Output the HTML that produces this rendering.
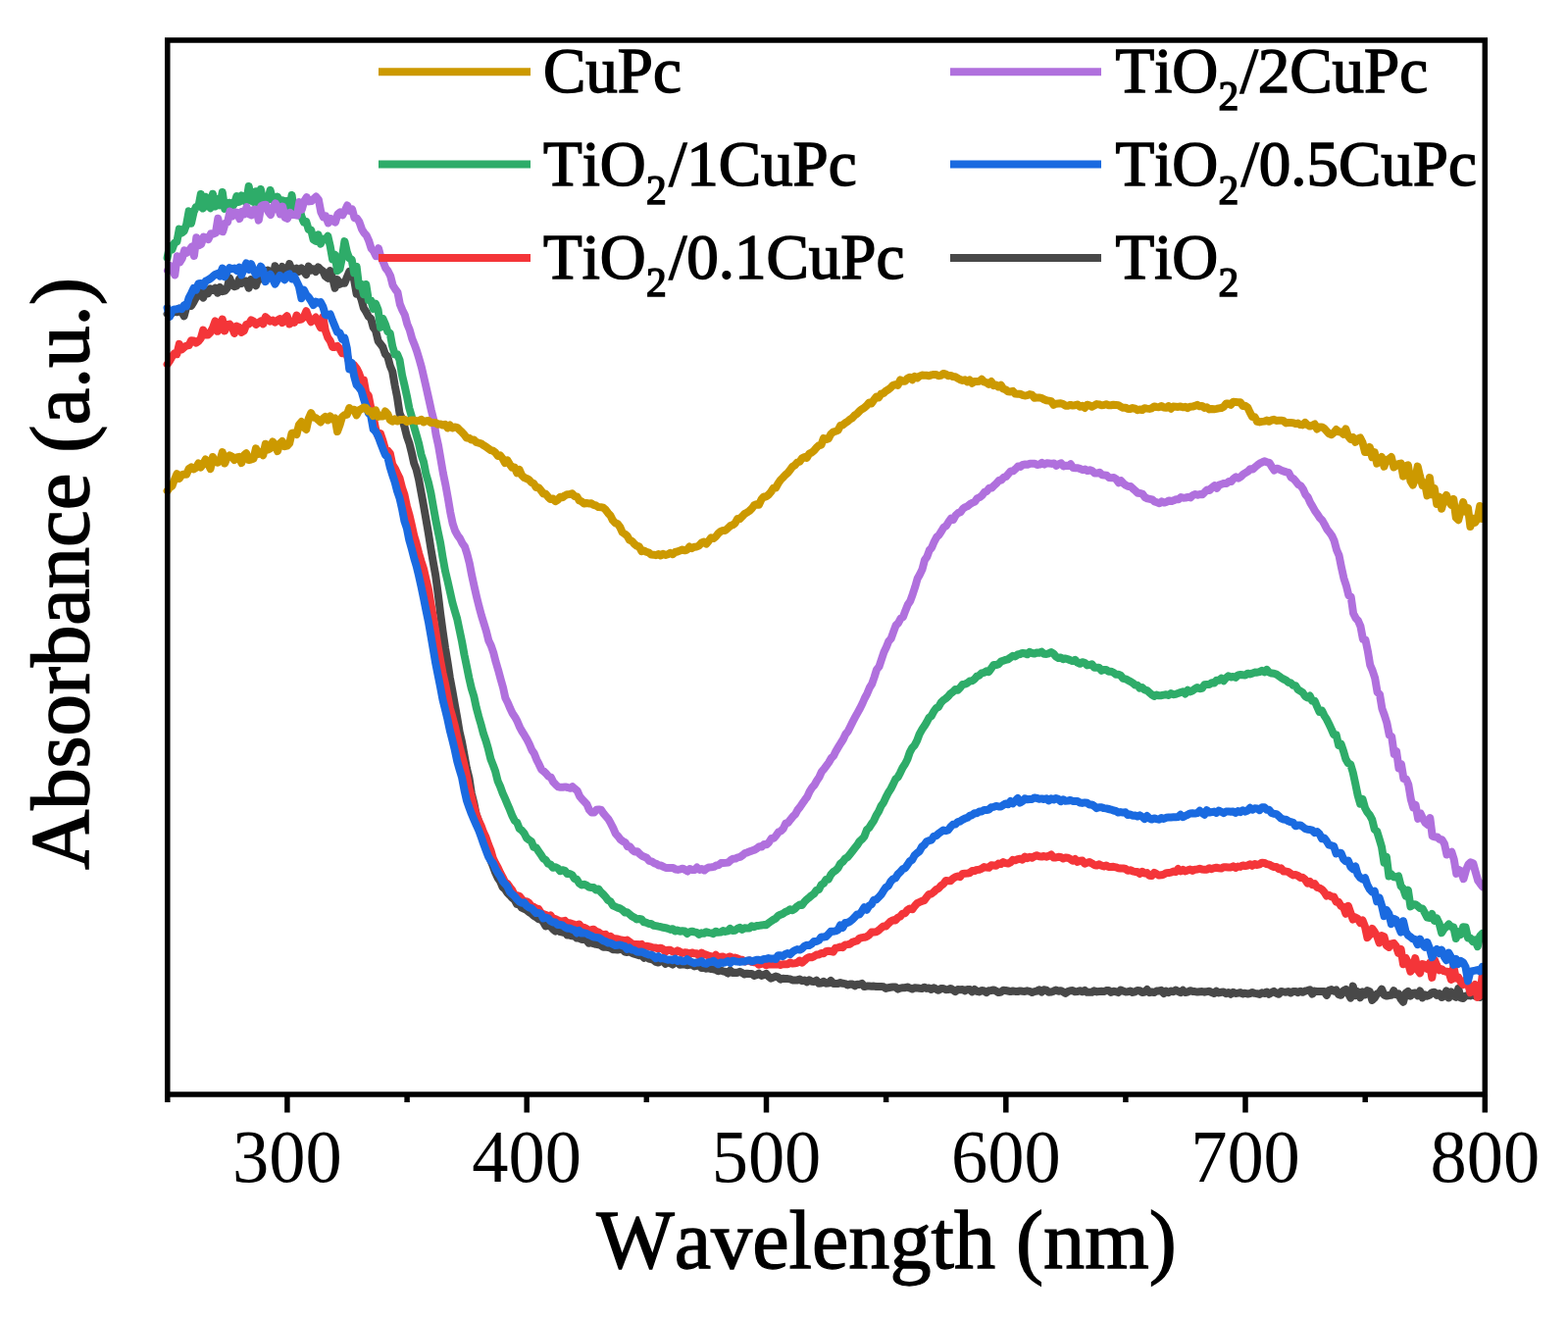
<!DOCTYPE html>
<html><head><meta charset="utf-8"><style>
html,body{margin:0;padding:0;background:#fff;overflow:hidden;}
svg{display:block;filter:blur(0.45px);}
text{font-family:"Liberation Serif","Times New Roman",serif;fill:#000;font-kerning:none;}
</style></head><body>
<svg width="1599" height="1345" viewBox="0 0 1599 1345">
<rect width="1599" height="1345" fill="#fff"/>
<g fill="none" stroke-width="8" stroke-linejoin="round" stroke-linecap="round">
<polyline points="170.6,320.0 173.0,321.5 175.5,319.2 177.9,316.8 180.4,318.2 182.8,314.6 185.3,317.9 187.7,322.3 190.1,313.3 192.6,310.3 195.0,311.9 197.5,307.8 199.9,303.3 202.4,297.2 204.8,301.0 207.2,303.6 209.7,295.5 212.1,299.3 214.6,294.4 217.0,296.0 219.5,293.8 221.9,298.6 224.3,292.9 226.8,297.2 229.2,296.7 231.7,293.7 234.1,283.3 236.6,290.3 239.0,292.2 241.4,291.4 243.9,284.7 246.3,289.1 248.8,286.5 251.2,286.6 253.7,293.7 256.1,285.0 258.5,287.7 261.0,291.3 263.4,283.9 265.9,284.4 268.3,284.9 270.8,282.9 273.2,275.6 275.6,280.4 278.1,284.3 280.5,271.3 283.0,280.6 285.4,276.7 287.8,272.0 290.3,283.1 292.7,277.8 295.2,269.1 297.6,275.3 300.1,277.3 302.5,273.7 304.9,276.9 307.4,273.5 309.8,276.7 312.3,280.0 314.7,271.7 317.2,275.6 319.6,274.4 322.0,277.0 324.5,272.4 326.9,274.8 329.4,276.5 331.8,281.7 334.3,283.7 336.7,276.0 339.1,283.4 341.6,293.8 344.0,285.1 346.5,289.8 348.9,288.3 351.4,288.8 353.8,282.8 356.2,277.0 358.7,278.7 361.1,285.2 363.6,299.6 366.0,298.8 368.5,305.2 370.9,314.1 373.3,317.9 375.8,322.8 378.2,324.8 380.7,333.9 383.1,337.1 385.6,347.7 388.0,350.8 390.4,354.0 392.9,361.2 395.3,363.5 397.8,373.0 400.2,378.7 402.7,393.2 405.1,405.3 407.5,421.4 410.0,427.1 412.4,434.7 414.9,444.9 417.3,451.6 419.8,461.4 422.2,472.3 424.6,478.6 427.1,489.1 429.5,501.9 432.0,515.6 434.4,529.3 436.9,543.8 439.3,559.0 441.7,573.0 444.2,586.7 446.6,604.8 449.1,625.5 451.5,643.2 454.0,660.6 456.4,674.8 458.8,690.9 461.3,704.2 463.7,717.9 466.2,731.8 468.6,746.1 471.1,757.0 473.5,770.0 475.9,783.1 478.4,793.2 480.8,808.9 483.3,818.9 485.7,830.7 488.2,837.4 490.6,846.3 493.0,852.8 495.5,858.6 497.9,869.3 500.4,877.4 502.8,883.3 505.2,889.9 507.7,895.2 510.1,898.8 512.6,904.7 515.0,906.7 517.5,910.4 519.9,912.9 522.3,915.6 524.8,917.5 527.2,922.0 529.7,922.8 532.1,925.7 534.6,926.8 537.0,927.9 539.4,930.0 541.9,931.5 544.3,933.7 546.8,935.2 549.2,937.2 551.7,937.8 554.1,940.2 556.5,944.4 559.0,943.7 561.4,944.6 563.9,947.5 566.3,949.6 568.8,947.8 571.2,950.2 573.6,950.7 576.1,950.3 578.5,953.5 581.0,953.6 583.4,954.3 585.9,954.6 588.3,956.6 590.7,956.7 593.2,958.0 595.6,957.9 598.1,958.7 600.5,961.8 603.0,960.8 605.4,962.2 607.8,962.9 610.3,963.2 612.7,963.9 615.2,965.7 617.6,965.5 620.1,966.0 622.5,966.7 624.9,968.2 627.4,968.2 629.8,968.5 632.3,968.1 634.7,967.8 637.2,970.5 639.6,971.0 642.0,970.3 644.5,971.7 646.9,972.7 649.4,973.5 651.8,974.3 654.3,974.0 656.7,976.7 659.1,974.9 661.6,977.5 664.0,978.0 666.5,978.9 668.9,980.9 671.4,981.5 673.8,979.7 676.2,980.0 678.7,982.8 681.1,981.1 683.6,982.3 686.0,983.6 688.5,981.3 690.9,981.1 693.3,983.7 695.8,983.6 698.2,983.5 700.7,984.2 703.1,983.8 705.6,983.6 708.0,985.4 710.4,984.9 712.9,984.5 715.3,986.9 717.8,986.9 720.2,987.7 722.7,987.1 725.1,988.1 727.5,988.3 730.0,988.9 732.4,990.2 734.9,989.4 737.3,990.4 739.7,990.9 742.2,992.5 744.6,989.5 747.1,992.0 749.5,991.7 752.0,991.9 754.4,990.8 756.8,992.0 759.3,993.4 761.7,992.7 764.2,993.0 766.6,993.0 769.1,994.9 771.5,994.2 773.9,992.6 776.4,994.9 778.8,994.1 781.3,992.9 783.7,995.7 786.2,997.7 788.6,996.6 791.0,995.6 793.5,996.3 795.9,998.6 798.4,997.8 800.8,997.9 803.3,998.1 805.7,998.4 808.1,999.4 810.6,999.5 813.0,999.4 815.5,998.6 817.9,1000.2 820.4,999.5 822.8,1001.3 825.2,999.4 827.7,1000.7 830.1,1001.0 832.6,999.7 835.0,1002.8 837.5,1002.6 839.9,1000.8 842.3,1002.7 844.8,1002.6 847.2,999.9 849.7,1002.9 852.1,1002.9 854.6,1002.9 857.0,1002.1 859.4,1002.8 861.9,1003.1 864.3,1004.4 866.8,1003.6 869.2,1003.5 871.7,1005.3 874.1,1003.7 876.5,1003.9 879.0,1002.8 881.4,1006.1 883.9,1005.6 886.3,1005.6 888.8,1005.7 891.2,1005.6 893.6,1006.0 896.1,1005.9 898.5,1005.9 901.0,1006.3 903.4,1007.9 905.9,1007.2 908.3,1006.8 910.7,1006.4 913.2,1006.4 915.6,1008.6 918.1,1007.6 920.5,1007.3 923.0,1007.2 925.4,1006.5 927.8,1007.6 930.3,1008.5 932.7,1007.2 935.2,1007.4 937.6,1007.8 940.1,1008.1 942.5,1006.7 944.9,1007.9 947.4,1007.5 949.8,1009.0 952.3,1007.3 954.7,1008.6 957.1,1009.8 959.6,1008.1 962.0,1008.0 964.5,1009.2 966.9,1009.1 969.4,1008.0 971.8,1009.5 974.2,1011.1 976.7,1009.1 979.1,1009.3 981.6,1009.0 984.0,1010.4 986.5,1008.9 988.9,1009.1 991.3,1011.3 993.8,1009.0 996.2,1010.8 998.7,1011.4 1001.1,1010.0 1003.6,1010.5 1006.0,1012.1 1008.4,1010.3 1010.9,1010.0 1013.3,1009.4 1015.8,1010.6 1018.2,1012.1 1020.7,1011.5 1023.1,1009.8 1025.5,1010.0 1028.0,1010.5 1030.4,1011.1 1032.9,1010.5 1035.3,1010.9 1037.8,1011.0 1040.2,1010.4 1042.6,1010.7 1045.1,1010.9 1047.5,1010.3 1050.0,1010.8 1052.4,1012.1 1054.9,1011.1 1057.3,1010.6 1059.7,1009.4 1062.2,1011.6 1064.6,1009.3 1067.1,1009.6 1069.5,1011.8 1072.0,1011.6 1074.4,1010.7 1076.8,1009.5 1079.3,1010.8 1081.7,1010.2 1084.2,1011.3 1086.6,1012.9 1089.1,1011.0 1091.5,1010.2 1093.9,1010.1 1096.4,1011.3 1098.8,1011.1 1101.3,1010.2 1103.7,1011.3 1106.2,1009.9 1108.6,1011.8 1111.0,1011.8 1113.5,1011.7 1115.9,1010.3 1118.4,1011.4 1120.8,1011.0 1123.3,1010.8 1125.7,1011.1 1128.1,1010.1 1130.6,1009.9 1133.0,1012.0 1135.5,1010.8 1137.9,1011.2 1140.4,1012.1 1142.8,1009.5 1145.2,1010.4 1147.7,1011.4 1150.1,1011.3 1152.6,1010.5 1155.0,1012.0 1157.5,1011.3 1159.9,1009.9 1162.3,1010.2 1164.8,1012.1 1167.2,1011.5 1169.7,1009.1 1172.1,1012.1 1174.5,1011.5 1177.0,1012.0 1179.4,1010.6 1181.9,1010.5 1184.3,1009.9 1186.8,1013.1 1189.2,1010.6 1191.6,1012.1 1194.1,1010.5 1196.5,1011.3 1199.0,1009.6 1201.4,1010.9 1203.9,1012.1 1206.3,1009.8 1208.7,1012.1 1211.2,1011.6 1213.6,1010.2 1216.1,1010.9 1218.5,1011.1 1221.0,1011.6 1223.4,1011.2 1225.8,1011.0 1228.3,1011.7 1230.7,1011.1 1233.2,1010.7 1235.6,1012.1 1238.1,1013.0 1240.5,1010.7 1242.9,1012.4 1245.4,1011.8 1247.8,1011.5 1250.3,1013.2 1252.7,1012.0 1255.2,1013.8 1257.6,1011.8 1260.0,1013.0 1262.5,1012.6 1264.9,1012.1 1267.4,1013.4 1269.8,1012.7 1272.3,1013.5 1274.7,1013.0 1277.1,1012.0 1279.6,1012.9 1282.0,1013.2 1284.5,1013.9 1286.9,1012.3 1289.4,1013.0 1291.8,1011.5 1294.2,1013.8 1296.7,1012.1 1299.1,1010.9 1301.6,1012.7 1304.0,1013.7 1306.5,1011.0 1308.9,1011.4 1311.3,1011.7 1313.8,1011.1 1316.2,1012.4 1318.7,1011.0 1321.1,1010.9 1323.6,1012.1 1326.0,1010.7 1328.4,1011.8 1330.9,1010.7 1333.3,1010.0 1335.8,1009.2 1338.2,1013.6 1340.7,1010.6 1343.1,1011.0 1345.5,1011.0 1348.0,1010.9 1350.4,1011.1 1352.9,1014.9 1355.3,1009.8 1357.8,1009.1 1360.2,1010.6 1362.6,1009.5 1365.1,1014.2 1367.5,1014.8 1370.0,1010.3 1372.4,1009.0 1374.9,1013.1 1377.3,1017.6 1379.7,1005.6 1382.2,1015.1 1384.6,1011.3 1387.1,1017.3 1389.5,1011.5 1392.0,1014.3 1394.4,1010.1 1396.8,1011.2 1399.3,1019.9 1401.7,1017.6 1404.2,1013.4 1406.6,1012.4 1409.0,1008.6 1411.5,1014.5 1413.9,1015.6 1416.4,1015.0 1418.8,1014.8 1421.3,1010.2 1423.7,1014.2 1426.1,1013.3 1428.6,1018.7 1431.0,1021.7 1433.5,1012.7 1435.9,1010.9 1438.4,1015.5 1440.8,1013.0 1443.2,1012.5 1445.7,1015.2 1448.1,1010.5 1450.6,1017.4 1453.0,1014.3 1455.5,1015.7 1457.9,1014.6 1460.3,1012.2 1462.8,1011.7 1465.2,1014.8 1467.7,1013.1 1470.1,1017.0 1472.6,1015.9 1475.0,1010.4 1477.4,1017.5 1479.9,1011.5 1482.3,1015.3 1484.8,1016.8 1487.2,1008.1 1489.7,1017.6 1492.1,1018.0 1494.5,1015.6 1497.0,1015.0 1499.4,1015.4 1501.9,1012.8 1504.3,1015.6 1506.8,1014.6 1509.2,1016.8 1511.6,1010.7" stroke="#484848"/>
<polyline points="170.6,371.5 173.0,368.0 175.5,363.5 177.9,360.3 180.4,361.2 182.8,350.8 185.3,356.4 187.7,354.2 190.1,352.7 192.6,352.2 195.0,347.2 197.5,347.4 199.9,349.6 202.4,347.9 204.8,345.0 207.2,336.5 209.7,341.5 212.1,341.5 214.6,338.9 217.0,334.3 219.5,327.4 221.9,337.8 224.3,333.9 226.8,325.5 229.2,337.4 231.7,331.2 234.1,330.6 236.6,333.6 239.0,339.9 241.4,332.6 243.9,333.6 246.3,338.9 248.8,337.4 251.2,331.0 253.7,330.6 256.1,326.5 258.5,327.6 261.0,330.9 263.4,329.2 265.9,327.5 268.3,330.3 270.8,323.2 273.2,325.2 275.6,327.7 278.1,326.6 280.5,328.6 283.0,326.6 285.4,325.1 287.8,329.1 290.3,324.4 292.7,322.2 295.2,330.5 297.6,328.4 300.1,328.9 302.5,321.5 304.9,326.0 307.4,325.5 309.8,323.3 312.3,317.2 314.7,323.5 317.2,328.2 319.6,326.2 322.0,323.6 324.5,329.1 326.9,334.1 329.4,323.3 331.8,337.0 334.3,344.2 336.7,347.6 339.1,353.9 341.6,354.1 344.0,352.8 346.5,355.6 348.9,360.1 351.4,357.9 353.8,362.2 356.2,369.5 358.7,376.7 361.1,372.3 363.6,375.6 366.0,380.4 368.5,387.4 370.9,387.4 373.3,400.6 375.8,403.4 378.2,415.6 380.7,425.1 383.1,437.2 385.6,445.1 388.0,442.2 390.4,449.3 392.9,458.1 395.3,459.5 397.8,462.3 400.2,473.5 402.7,477.5 405.1,482.6 407.5,487.6 410.0,497.3 412.4,504.4 414.9,516.2 417.3,524.5 419.8,535.2 422.2,546.1 424.6,554.2 427.1,564.0 429.5,572.2 432.0,579.9 434.4,590.5 436.9,601.0 439.3,615.2 441.7,628.6 444.2,643.6 446.6,659.1 449.1,673.4 451.5,686.3 454.0,697.2 456.4,709.6 458.8,722.1 461.3,730.7 463.7,739.7 466.2,750.9 468.6,761.6 471.1,770.7 473.5,780.1 475.9,790.7 478.4,803.4 480.8,812.6 483.3,822.4 485.7,830.3 488.2,836.9 490.6,841.9 493.0,848.6 495.5,853.8 497.9,860.8 500.4,866.9 502.8,875.3 505.2,880.2 507.7,884.7 510.1,889.9 512.6,894.6 515.0,899.6 517.5,901.2 519.9,904.6 522.3,907.7 524.8,912.6 527.2,913.1 529.7,913.8 532.1,916.7 534.6,919.8 537.0,919.2 539.4,920.7 541.9,923.9 544.3,924.8 546.8,926.4 549.2,926.9 551.7,930.8 554.1,932.2 556.5,932.8 559.0,934.4 561.4,933.4 563.9,937.0 566.3,937.1 568.8,938.3 571.2,939.6 573.6,939.3 576.1,938.8 578.5,941.5 581.0,941.2 583.4,942.1 585.9,942.9 588.3,943.6 590.7,942.5 593.2,946.2 595.6,945.8 598.1,947.1 600.5,949.0 603.0,948.2 605.4,947.7 607.8,949.8 610.3,950.6 612.7,952.3 615.2,953.7 617.6,952.8 620.1,955.6 622.5,954.7 624.9,956.8 627.4,957.1 629.8,957.4 632.3,958.3 634.7,958.6 637.2,959.1 639.6,958.6 642.0,960.4 644.5,962.5 646.9,963.0 649.4,963.1 651.8,963.3 654.3,962.8 656.7,965.5 659.1,964.7 661.6,965.2 664.0,965.7 666.5,966.5 668.9,966.6 671.4,967.4 673.8,966.7 676.2,967.8 678.7,970.6 681.1,968.7 683.6,968.8 686.0,970.3 688.5,970.8 690.9,969.4 693.3,970.5 695.8,971.9 698.2,971.3 700.7,971.5 703.1,973.1 705.6,971.4 708.0,972.2 710.4,972.3 712.9,974.4 715.3,971.6 717.8,973.0 720.2,973.6 722.7,974.7 725.1,975.1 727.5,976.1 730.0,973.8 732.4,976.4 734.9,975.8 737.3,975.6 739.7,977.3 742.2,976.2 744.6,975.4 747.1,977.3 749.5,976.5 752.0,977.3 754.4,978.4 756.8,978.8 759.3,980.6 761.7,979.8 764.2,979.3 766.6,980.9 769.1,981.2 771.5,981.5 773.9,983.7 776.4,983.0 778.8,981.9 781.3,984.3 783.7,983.5 786.2,983.6 788.6,983.4 791.0,983.6 793.5,983.0 795.9,984.0 798.4,983.2 800.8,983.2 803.3,983.2 805.7,981.5 808.1,982.5 810.6,982.2 813.0,981.8 815.5,979.6 817.9,981.6 820.4,979.5 822.8,977.2 825.2,975.9 827.7,976.2 830.1,975.2 832.6,973.6 835.0,973.4 837.5,972.0 839.9,972.2 842.3,970.2 844.8,969.7 847.2,970.0 849.7,970.6 852.1,966.7 854.6,966.4 857.0,965.6 859.4,966.2 861.9,963.4 864.3,963.1 866.8,962.7 869.2,960.8 871.7,959.9 874.1,959.4 876.5,956.8 879.0,956.1 881.4,955.8 883.9,955.1 886.3,953.4 888.8,950.6 891.2,950.5 893.6,950.3 896.1,948.6 898.5,946.4 901.0,944.4 903.4,944.4 905.9,941.8 908.3,939.5 910.7,938.3 913.2,938.5 915.6,935.6 918.1,934.6 920.5,931.6 923.0,931.2 925.4,927.9 927.8,926.5 930.3,927.3 932.7,924.0 935.2,921.2 937.6,920.0 940.1,918.8 942.5,918.1 944.9,914.8 947.4,911.9 949.8,911.5 952.3,909.5 954.7,907.2 957.1,906.0 959.6,903.1 962.0,901.5 964.5,898.0 966.9,898.3 969.4,898.3 971.8,895.8 974.2,894.3 976.7,893.5 979.1,894.2 981.6,890.9 984.0,890.7 986.5,890.6 988.9,890.0 991.3,888.1 993.8,888.1 996.2,886.9 998.7,886.7 1001.1,885.8 1003.6,884.1 1006.0,884.6 1008.4,884.8 1010.9,882.3 1013.3,882.5 1015.8,882.8 1018.2,880.6 1020.7,881.0 1023.1,879.1 1025.5,880.1 1028.0,880.5 1030.4,879.4 1032.9,876.8 1035.3,877.3 1037.8,876.2 1040.2,875.8 1042.6,876.6 1045.1,873.6 1047.5,875.1 1050.0,873.8 1052.4,874.7 1054.9,873.3 1057.3,872.3 1059.7,873.2 1062.2,873.6 1064.6,873.0 1067.1,873.7 1069.5,872.9 1072.0,871.5 1074.4,874.5 1076.8,874.4 1079.3,873.8 1081.7,874.0 1084.2,875.4 1086.6,874.5 1089.1,874.7 1091.5,876.0 1093.9,877.7 1096.4,875.9 1098.8,878.9 1101.3,877.7 1103.7,877.6 1106.2,880.6 1108.6,879.8 1111.0,879.0 1113.5,880.4 1115.9,882.0 1118.4,882.6 1120.8,881.4 1123.3,882.7 1125.7,883.4 1128.1,882.5 1130.6,883.9 1133.0,884.0 1135.5,883.8 1137.9,884.3 1140.4,885.2 1142.8,885.6 1145.2,885.4 1147.7,886.0 1150.1,887.8 1152.6,887.3 1155.0,888.3 1157.5,889.0 1159.9,889.0 1162.3,891.0 1164.8,888.8 1167.2,890.6 1169.7,890.1 1172.1,892.7 1174.5,893.1 1177.0,889.9 1179.4,891.1 1181.9,892.6 1184.3,892.3 1186.8,891.6 1189.2,890.2 1191.6,890.1 1194.1,889.6 1196.5,888.6 1199.0,889.1 1201.4,886.1 1203.9,888.4 1206.3,886.9 1208.7,888.5 1211.2,887.3 1213.6,886.6 1216.1,887.9 1218.5,886.7 1221.0,886.5 1223.4,885.7 1225.8,886.6 1228.3,886.8 1230.7,886.7 1233.2,885.3 1235.6,886.2 1238.1,885.1 1240.5,884.7 1242.9,885.3 1245.4,885.6 1247.8,884.2 1250.3,884.3 1252.7,884.5 1255.2,884.4 1257.6,883.4 1260.0,885.0 1262.5,883.6 1264.9,883.9 1267.4,882.4 1269.8,883.1 1272.3,882.5 1274.7,881.2 1277.1,882.8 1279.6,881.0 1282.0,882.0 1284.5,881.3 1286.9,879.7 1289.4,880.0 1291.8,881.1 1294.2,881.6 1296.7,883.0 1299.1,884.0 1301.6,883.9 1304.0,886.2 1306.5,885.4 1308.9,888.5 1311.3,888.5 1313.8,889.2 1316.2,890.8 1318.7,892.4 1321.1,892.0 1323.6,893.0 1326.0,894.9 1328.4,894.8 1330.9,896.9 1333.3,900.6 1335.8,898.9 1338.2,902.2 1340.7,901.2 1343.1,904.8 1345.5,905.5 1348.0,906.9 1350.4,909.7 1352.9,913.6 1355.3,912.7 1357.8,914.4 1360.2,914.4 1362.6,919.7 1365.1,919.8 1367.5,923.9 1370.0,924.7 1372.4,931.8 1374.9,923.8 1377.3,930.9 1379.7,937.6 1382.2,935.4 1384.6,936.7 1387.1,941.0 1389.5,938.4 1392.0,945.0 1394.4,956.1 1396.8,953.4 1399.3,946.9 1401.7,950.2 1404.2,954.5 1406.6,961.5 1409.0,954.1 1411.5,955.2 1413.9,964.2 1416.4,965.9 1418.8,962.3 1421.3,961.8 1423.7,964.7 1426.1,971.9 1428.6,967.9 1431.0,983.2 1433.5,976.8 1435.9,981.6 1438.4,990.6 1440.8,987.5 1443.2,977.1 1445.7,989.0 1448.1,992.3 1450.6,983.1 1453.0,983.9 1455.5,988.0 1457.9,982.0 1460.3,996.9 1462.8,978.7 1465.2,984.3 1467.7,989.3 1470.1,988.3 1472.6,990.2 1475.0,990.8 1477.4,990.9 1479.9,999.0 1482.3,985.7 1484.8,997.5 1487.2,996.5 1489.7,1001.5 1492.1,1003.9 1494.5,999.6 1497.0,1002.9 1499.4,1012.2 1501.9,1009.8 1504.3,1004.0 1506.8,1016.9 1509.2,1015.0 1511.6,995.4" stroke="#F43539"/>
<polyline points="170.6,314.0 173.0,323.0 175.5,317.0 177.9,315.4 180.4,315.2 182.8,314.5 185.3,315.1 187.7,311.3 190.1,312.3 192.6,303.9 195.0,299.2 197.5,293.9 199.9,295.6 202.4,289.3 204.8,289.1 207.2,291.6 209.7,286.7 212.1,285.5 214.6,284.0 217.0,281.9 219.5,279.9 221.9,278.9 224.3,281.5 226.8,273.5 229.2,282.1 231.7,276.9 234.1,273.1 236.6,274.2 239.0,273.6 241.4,275.9 243.9,272.7 246.3,280.5 248.8,273.6 251.2,268.4 253.7,274.9 256.1,269.1 258.5,275.3 261.0,280.1 263.4,278.8 265.9,271.7 268.3,275.6 270.8,287.1 273.2,281.7 275.6,279.8 278.1,284.3 280.5,289.7 283.0,285.1 285.4,280.9 287.8,283.1 290.3,285.2 292.7,280.6 295.2,279.4 297.6,284.3 300.1,282.1 302.5,287.1 304.9,292.1 307.4,304.3 309.8,295.6 312.3,300.6 314.7,303.0 317.2,306.8 319.6,311.1 322.0,307.6 324.5,308.8 326.9,308.1 329.4,312.9 331.8,321.1 334.3,321.6 336.7,320.5 339.1,326.9 341.6,332.9 344.0,338.7 346.5,339.4 348.9,345.9 351.4,344.7 353.8,355.2 356.2,376.4 358.7,370.0 361.1,383.4 363.6,392.5 366.0,394.9 368.5,398.5 370.9,406.7 373.3,413.7 375.8,421.3 378.2,423.8 380.7,437.7 383.1,440.1 385.6,444.7 388.0,451.4 390.4,457.7 392.9,463.8 395.3,466.1 397.8,476.5 400.2,484.2 402.7,491.7 405.1,501.0 407.5,507.8 410.0,518.8 412.4,531.2 414.9,538.8 417.3,550.6 419.8,559.5 422.2,568.8 424.6,576.9 427.1,587.1 429.5,598.0 432.0,609.8 434.4,621.9 436.9,633.9 439.3,647.5 441.7,661.6 444.2,676.3 446.6,688.2 449.1,700.8 451.5,713.6 454.0,723.5 456.4,733.4 458.8,744.8 461.3,754.5 463.7,764.4 466.2,776.2 468.6,784.7 471.1,792.9 473.5,805.5 475.9,816.2 478.4,823.4 480.8,829.8 483.3,835.7 485.7,841.2 488.2,846.7 490.6,853.2 493.0,860.1 495.5,866.8 497.9,873.2 500.4,877.6 502.8,880.2 505.2,885.7 507.7,890.1 510.1,893.4 512.6,898.6 515.0,901.2 517.5,904.1 519.9,909.5 522.3,911.8 524.8,914.0 527.2,917.0 529.7,919.5 532.1,920.8 534.6,920.3 537.0,923.6 539.4,925.4 541.9,926.1 544.3,928.6 546.8,931.1 549.2,930.9 551.7,932.0 554.1,936.5 556.5,935.7 559.0,936.3 561.4,939.2 563.9,940.4 566.3,940.6 568.8,943.0 571.2,943.0 573.6,943.5 576.1,945.5 578.5,946.8 581.0,946.4 583.4,947.8 585.9,948.4 588.3,951.4 590.7,949.1 593.2,951.6 595.6,951.3 598.1,951.8 600.5,953.3 603.0,954.2 605.4,955.6 607.8,955.9 610.3,956.2 612.7,957.4 615.2,959.2 617.6,960.1 620.1,961.5 622.5,961.4 624.9,962.7 627.4,964.1 629.8,963.8 632.3,963.4 634.7,964.3 637.2,964.9 639.6,967.9 642.0,966.4 644.5,968.6 646.9,968.9 649.4,970.5 651.8,970.8 654.3,970.6 656.7,971.5 659.1,972.6 661.6,973.5 664.0,973.5 666.5,975.0 668.9,977.2 671.4,975.1 673.8,977.4 676.2,976.9 678.7,978.0 681.1,978.8 683.6,978.4 686.0,979.2 688.5,977.6 690.9,980.0 693.3,978.9 695.8,980.2 698.2,980.3 700.7,978.2 703.1,980.0 705.6,981.1 708.0,982.2 710.4,981.4 712.9,981.4 715.3,980.0 717.8,982.4 720.2,982.8 722.7,981.3 725.1,981.1 727.5,979.8 730.0,981.9 732.4,983.3 734.9,981.4 737.3,981.9 739.7,981.3 742.2,980.0 744.6,982.0 747.1,979.7 749.5,980.2 752.0,980.6 754.4,980.9 756.8,980.5 759.3,980.6 761.7,979.6 764.2,979.2 766.6,980.4 769.1,979.6 771.5,978.8 773.9,978.8 776.4,979.3 778.8,977.9 781.3,977.8 783.7,977.1 786.2,977.7 788.6,977.4 791.0,978.0 793.5,974.2 795.9,974.3 798.4,975.1 800.8,973.0 803.3,972.1 805.7,973.2 808.1,970.8 810.6,969.1 813.0,968.1 815.5,968.6 817.9,967.4 820.4,964.7 822.8,963.8 825.2,963.9 827.7,962.5 830.1,960.0 832.6,960.1 835.0,958.8 837.5,955.4 839.9,955.5 842.3,955.0 844.8,952.6 847.2,949.8 849.7,949.8 852.1,949.4 854.6,948.1 857.0,943.4 859.4,945.9 861.9,941.1 864.3,940.9 866.8,939.6 869.2,937.7 871.7,935.2 874.1,932.4 876.5,932.4 879.0,929.0 881.4,925.3 883.9,927.7 886.3,923.7 888.8,922.1 891.2,917.6 893.6,917.2 896.1,914.9 898.5,912.3 901.0,908.3 903.4,904.9 905.9,903.3 908.3,898.8 910.7,896.4 913.2,895.3 915.6,891.5 918.1,889.1 920.5,886.3 923.0,885.3 925.4,881.9 927.8,878.2 930.3,876.7 932.7,872.2 935.2,869.8 937.6,868.2 940.1,863.5 942.5,861.6 944.9,858.2 947.4,857.2 949.8,856.6 952.3,852.8 954.7,852.2 957.1,850.0 959.6,848.2 962.0,846.5 964.5,847.2 966.9,846.5 969.4,843.1 971.8,840.8 974.2,840.6 976.7,838.2 979.1,837.6 981.6,835.8 984.0,834.6 986.5,833.8 988.9,831.9 991.3,831.1 993.8,829.2 996.2,829.2 998.7,827.5 1001.1,827.5 1003.6,825.9 1006.0,826.0 1008.4,825.5 1010.9,823.2 1013.3,822.9 1015.8,821.9 1018.2,822.4 1020.7,822.5 1023.1,820.9 1025.5,819.4 1028.0,820.2 1030.4,817.1 1032.9,819.3 1035.3,816.7 1037.8,814.0 1040.2,818.5 1042.6,817.1 1045.1,814.3 1047.5,815.3 1050.0,815.0 1052.4,815.0 1054.9,813.4 1057.3,813.9 1059.7,814.7 1062.2,814.4 1064.6,815.0 1067.1,814.3 1069.5,816.4 1072.0,814.3 1074.4,815.5 1076.8,814.0 1079.3,814.8 1081.7,817.2 1084.2,815.3 1086.6,816.7 1089.1,816.6 1091.5,815.9 1093.9,816.9 1096.4,816.9 1098.8,817.1 1101.3,818.5 1103.7,818.9 1106.2,818.4 1108.6,818.8 1111.0,820.5 1113.5,820.5 1115.9,822.0 1118.4,824.1 1120.8,823.2 1123.3,823.3 1125.7,824.1 1128.1,824.4 1130.6,825.0 1133.0,825.6 1135.5,826.5 1137.9,827.0 1140.4,828.5 1142.8,828.1 1145.2,828.6 1147.7,828.3 1150.1,831.0 1152.6,830.4 1155.0,831.7 1157.5,831.5 1159.9,832.5 1162.3,831.4 1164.8,832.9 1167.2,835.1 1169.7,832.0 1172.1,834.5 1174.5,835.5 1177.0,834.4 1179.4,835.1 1181.9,835.7 1184.3,834.0 1186.8,834.9 1189.2,833.8 1191.6,833.6 1194.1,833.4 1196.5,833.3 1199.0,833.3 1201.4,833.0 1203.9,830.8 1206.3,833.1 1208.7,831.9 1211.2,830.8 1213.6,829.4 1216.1,829.2 1218.5,829.6 1221.0,829.1 1223.4,826.8 1225.8,829.0 1228.3,830.7 1230.7,826.2 1233.2,828.6 1235.6,828.1 1238.1,827.6 1240.5,828.9 1242.9,826.6 1245.4,827.8 1247.8,829.1 1250.3,827.5 1252.7,827.4 1255.2,827.8 1257.6,827.4 1260.0,829.0 1262.5,827.0 1264.9,828.2 1267.4,826.2 1269.8,827.6 1272.3,826.5 1274.7,823.8 1277.1,825.7 1279.6,824.3 1282.0,824.4 1284.5,826.1 1286.9,823.3 1289.4,823.2 1291.8,825.7 1294.2,825.8 1296.7,828.9 1299.1,829.8 1301.6,830.1 1304.0,832.1 1306.5,834.6 1308.9,835.5 1311.3,835.8 1313.8,837.3 1316.2,838.2 1318.7,838.9 1321.1,842.3 1323.6,841.6 1326.0,841.4 1328.4,843.0 1330.9,845.0 1333.3,845.8 1335.8,846.0 1338.2,846.7 1340.7,849.2 1343.1,848.1 1345.5,850.2 1348.0,855.2 1350.4,854.5 1352.9,857.7 1355.3,861.7 1357.8,862.2 1360.2,863.1 1362.6,870.4 1365.1,869.7 1367.5,869.7 1370.0,876.0 1372.4,878.2 1374.9,877.6 1377.3,883.9 1379.7,886.2 1382.2,883.4 1384.6,891.8 1387.1,894.9 1389.5,896.6 1392.0,895.2 1394.4,902.4 1396.8,906.9 1399.3,909.6 1401.7,908.6 1404.2,919.3 1406.6,915.4 1409.0,923.2 1411.5,934.2 1413.9,928.0 1416.4,931.8 1418.8,942.1 1421.3,936.8 1423.7,938.1 1426.1,944.2 1428.6,950.6 1431.0,939.2 1433.5,949.9 1435.9,953.7 1438.4,955.4 1440.8,957.3 1443.2,958.1 1445.7,963.2 1448.1,957.6 1450.6,962.9 1453.0,965.7 1455.5,961.0 1457.9,966.9 1460.3,976.2 1462.8,971.1 1465.2,968.1 1467.7,972.2 1470.1,968.8 1472.6,975.3 1475.0,979.2 1477.4,971.6 1479.9,976.1 1482.3,983.8 1484.8,978.0 1487.2,983.0 1489.7,980.0 1492.1,981.4 1494.5,985.8 1497.0,1000.4 1499.4,990.7 1501.9,990.2 1504.3,989.7 1506.8,989.1 1509.2,990.3 1511.6,986.0" stroke="#1A6AE0"/>
<polyline points="170.6,262.9 173.0,250.8 175.5,254.4 177.9,247.6 180.4,246.6 182.8,233.6 185.3,237.5 187.7,235.6 190.1,229.2 192.6,215.4 195.0,227.7 197.5,216.3 199.9,210.9 202.4,210.7 204.8,198.0 207.2,212.5 209.7,200.7 212.1,209.3 214.6,212.2 217.0,197.7 219.5,210.5 221.9,203.2 224.3,209.3 226.8,196.0 229.2,212.9 231.7,207.3 234.1,206.7 236.6,211.0 239.0,207.8 241.4,200.0 243.9,205.9 246.3,199.4 248.8,204.8 251.2,205.8 253.7,190.0 256.1,204.7 258.5,205.8 261.0,195.2 263.4,207.0 265.9,193.0 268.3,204.4 270.8,205.4 273.2,203.7 275.6,194.0 278.1,203.6 280.5,205.4 283.0,200.8 285.4,207.0 287.8,204.2 290.3,205.2 292.7,205.0 295.2,211.4 297.6,199.0 300.1,218.0 302.5,211.4 304.9,210.8 307.4,220.6 309.8,226.6 312.3,226.0 314.7,234.2 317.2,234.4 319.6,244.3 322.0,245.7 324.5,239.3 326.9,248.6 329.4,243.7 331.8,244.2 334.3,240.7 336.7,250.9 339.1,264.4 341.6,259.7 344.0,276.2 346.5,274.1 348.9,262.6 351.4,246.1 353.8,256.9 356.2,263.3 358.7,264.7 361.1,278.2 363.6,271.8 366.0,291.6 368.5,290.0 370.9,300.1 373.3,290.0 375.8,306.1 378.2,306.2 380.7,315.0 383.1,309.7 385.6,316.0 388.0,333.9 390.4,324.8 392.9,330.5 395.3,337.9 397.8,340.1 400.2,353.2 402.7,361.4 405.1,361.2 407.5,367.0 410.0,382.3 412.4,392.5 414.9,403.8 417.3,416.0 419.8,424.6 422.2,435.2 424.6,443.4 427.1,452.4 429.5,463.4 432.0,471.1 434.4,483.4 436.9,491.8 439.3,502.3 441.7,515.9 444.2,529.8 446.6,541.8 449.1,553.6 451.5,568.4 454.0,582.1 456.4,592.1 458.8,602.8 461.3,614.2 463.7,622.6 466.2,631.0 468.6,642.5 471.1,654.5 473.5,667.8 475.9,679.3 478.4,691.6 480.8,702.0 483.3,710.1 485.7,721.4 488.2,730.8 490.6,739.0 493.0,748.2 495.5,755.3 497.9,763.7 500.4,774.0 502.8,780.1 505.2,786.7 507.7,796.7 510.1,802.0 512.6,808.8 515.0,814.2 517.5,820.1 519.9,825.7 522.3,831.7 524.8,836.8 527.2,838.6 529.7,845.0 532.1,846.7 534.6,849.7 537.0,854.5 539.4,856.4 541.9,858.0 544.3,863.9 546.8,864.4 549.2,868.2 551.7,871.6 554.1,875.5 556.5,876.9 559.0,880.7 561.4,881.5 563.9,884.8 566.3,884.2 568.8,885.3 571.2,888.2 573.6,887.2 576.1,887.8 578.5,891.0 581.0,890.9 583.4,892.2 585.9,896.1 588.3,896.7 590.7,900.7 593.2,902.4 595.6,901.8 598.1,902.8 600.5,904.5 603.0,905.0 605.4,905.1 607.8,907.5 610.3,906.5 612.7,909.6 615.2,912.0 617.6,914.7 620.1,918.0 622.5,919.3 624.9,923.3 627.4,924.5 629.8,925.6 632.3,926.4 634.7,927.9 637.2,930.4 639.6,930.3 642.0,932.3 644.5,934.4 646.9,935.6 649.4,937.4 651.8,937.0 654.3,937.5 656.7,940.4 659.1,940.7 661.6,942.0 664.0,941.9 666.5,943.7 668.9,944.1 671.4,944.7 673.8,945.2 676.2,945.8 678.7,946.2 681.1,946.9 683.6,947.9 686.0,947.2 688.5,949.5 690.9,948.5 693.3,949.8 695.8,949.2 698.2,949.4 700.7,952.0 703.1,950.3 705.6,949.7 708.0,950.4 710.4,950.9 712.9,952.9 715.3,951.3 717.8,951.8 720.2,950.2 722.7,951.1 725.1,951.4 727.5,952.1 730.0,949.7 732.4,950.8 734.9,950.6 737.3,949.1 739.7,949.9 742.2,949.3 744.6,946.9 747.1,949.1 749.5,948.7 752.0,947.0 754.4,945.9 756.8,947.9 759.3,946.2 761.7,946.4 764.2,946.4 766.6,944.3 769.1,945.2 771.5,944.1 773.9,943.9 776.4,943.5 778.8,943.1 781.3,943.3 783.7,941.2 786.2,939.5 788.6,937.9 791.0,936.7 793.5,933.9 795.9,932.7 798.4,931.7 800.8,930.0 803.3,929.0 805.7,927.3 808.1,928.3 810.6,926.6 813.0,924.2 815.5,922.5 817.9,923.0 820.4,919.5 822.8,917.1 825.2,915.3 827.7,913.0 830.1,911.4 832.6,907.8 835.0,907.2 837.5,902.3 839.9,900.9 842.3,897.0 844.8,896.7 847.2,892.0 849.7,889.2 852.1,887.6 854.6,885.2 857.0,880.6 859.4,878.8 861.9,875.5 864.3,874.1 866.8,871.2 869.2,868.0 871.7,864.8 874.1,861.8 876.5,858.0 879.0,855.8 881.4,853.0 883.9,846.3 886.3,844.1 888.8,840.1 891.2,836.7 893.6,831.3 896.1,827.3 898.5,821.8 901.0,818.4 903.4,813.1 905.9,808.2 908.3,804.6 910.7,799.9 913.2,794.6 915.6,792.5 918.1,787.8 920.5,782.7 923.0,779.0 925.4,774.3 927.8,767.1 930.3,762.4 932.7,759.9 935.2,755.2 937.6,748.7 940.1,744.1 942.5,740.6 944.9,736.6 947.4,731.9 949.8,730.0 952.3,725.3 954.7,722.1 957.1,720.9 959.6,716.4 962.0,714.0 964.5,712.3 966.9,710.1 969.4,707.2 971.8,705.5 974.2,703.1 976.7,703.8 979.1,701.2 981.6,698.0 984.0,697.6 986.5,696.5 988.9,694.5 991.3,694.3 993.8,692.5 996.2,689.6 998.7,688.7 1001.1,686.4 1003.6,685.9 1006.0,684.3 1008.4,685.1 1010.9,681.4 1013.3,677.9 1015.8,678.0 1018.2,677.4 1020.7,674.6 1023.1,673.7 1025.5,672.9 1028.0,672.3 1030.4,670.5 1032.9,668.8 1035.3,669.4 1037.8,667.5 1040.2,667.0 1042.6,665.9 1045.1,666.3 1047.5,667.3 1050.0,664.8 1052.4,666.0 1054.9,666.6 1057.3,665.5 1059.7,665.8 1062.2,664.6 1064.6,666.8 1067.1,666.9 1069.5,666.3 1072.0,665.0 1074.4,666.6 1076.8,669.6 1079.3,671.0 1081.7,670.5 1084.2,672.2 1086.6,671.4 1089.1,672.3 1091.5,673.3 1093.9,674.1 1096.4,672.8 1098.8,675.7 1101.3,676.8 1103.7,675.2 1106.2,675.8 1108.6,678.4 1111.0,678.1 1113.5,677.2 1115.9,680.8 1118.4,680.7 1120.8,680.7 1123.3,683.9 1125.7,682.9 1128.1,683.0 1130.6,684.8 1133.0,684.7 1135.5,685.8 1137.9,687.8 1140.4,687.7 1142.8,688.7 1145.2,691.8 1147.7,692.3 1150.1,693.6 1152.6,694.8 1155.0,696.3 1157.5,698.5 1159.9,698.7 1162.3,701.7 1164.8,701.1 1167.2,703.4 1169.7,704.1 1172.1,706.2 1174.5,708.3 1177.0,709.9 1179.4,708.6 1181.9,709.3 1184.3,709.2 1186.8,708.6 1189.2,708.2 1191.6,709.0 1194.1,707.0 1196.5,708.2 1199.0,707.9 1201.4,706.9 1203.9,706.0 1206.3,705.3 1208.7,707.4 1211.2,703.8 1213.6,705.5 1216.1,704.3 1218.5,702.5 1221.0,701.0 1223.4,702.3 1225.8,701.9 1228.3,698.3 1230.7,697.9 1233.2,697.9 1235.6,696.2 1238.1,696.6 1240.5,693.8 1242.9,693.8 1245.4,691.8 1247.8,694.3 1250.3,691.2 1252.7,689.2 1255.2,690.5 1257.6,689.9 1260.0,690.9 1262.5,688.4 1264.9,688.0 1267.4,688.3 1269.8,688.6 1272.3,686.7 1274.7,687.4 1277.1,686.7 1279.6,685.6 1282.0,685.7 1284.5,685.1 1286.9,683.9 1289.4,685.3 1291.8,682.9 1294.2,685.6 1296.7,686.6 1299.1,686.8 1301.6,687.6 1304.0,689.3 1306.5,691.1 1308.9,692.5 1311.3,693.6 1313.8,695.8 1316.2,696.4 1318.7,698.7 1321.1,699.1 1323.6,703.1 1326.0,704.6 1328.4,706.1 1330.9,709.9 1333.3,711.5 1335.8,709.6 1338.2,714.8 1340.7,714.8 1343.1,720.5 1345.5,725.9 1348.0,724.6 1350.4,729.6 1352.9,733.4 1355.3,738.3 1357.8,743.6 1360.2,749.2 1362.6,749.2 1365.1,759.9 1367.5,758.6 1370.0,765.9 1372.4,774.2 1374.9,778.3 1377.3,779.6 1379.7,787.6 1382.2,799.2 1384.6,810.9 1387.1,819.7 1389.5,814.9 1392.0,823.9 1394.4,828.2 1396.8,831.1 1399.3,835.9 1401.7,845.6 1404.2,847.7 1406.6,855.5 1409.0,863.7 1411.5,879.6 1413.9,873.7 1416.4,893.5 1418.8,891.5 1421.3,894.2 1423.7,894.5 1426.1,893.4 1428.6,903.5 1431.0,906.1 1433.5,913.6 1435.9,907.6 1438.4,924.4 1440.8,922.5 1443.2,922.2 1445.7,923.8 1448.1,926.1 1450.6,926.4 1453.0,930.8 1455.5,935.6 1457.9,936.0 1460.3,932.0 1462.8,939.0 1465.2,936.4 1467.7,941.7 1470.1,951.2 1472.6,947.1 1475.0,945.0 1477.4,942.5 1479.9,945.0 1482.3,945.4 1484.8,957.0 1487.2,950.2 1489.7,952.9 1492.1,945.3 1494.5,945.4 1497.0,956.4 1499.4,956.4 1501.9,960.1 1504.3,958.4 1506.8,965.2 1509.2,954.5 1511.6,952.0" stroke="#2EAC69"/>
<polyline points="171.0,275.9 173.4,270.8 175.9,275.9 178.3,280.4 180.8,261.2 183.2,267.6 185.7,263.7 188.1,255.3 190.5,257.7 193.0,255.1 195.4,251.8 197.9,260.9 200.3,242.3 202.8,250.2 205.2,248.9 207.6,241.6 210.1,242.9 212.5,244.0 215.0,238.3 217.4,238.6 219.9,237.6 222.3,222.8 224.7,235.3 227.2,236.2 229.6,227.8 232.1,226.4 234.5,215.6 237.0,220.4 239.4,216.4 241.8,216.7 244.3,223.1 246.7,215.8 249.2,218.3 251.6,211.0 254.1,218.3 256.5,219.4 258.9,213.7 261.4,213.7 263.8,224.6 266.3,210.3 268.7,208.9 271.2,208.8 273.6,215.8 276.0,219.0 278.5,211.2 280.9,207.4 283.4,211.3 285.8,218.5 288.2,210.5 290.7,221.8 293.1,222.9 295.6,216.8 298.0,218.9 300.5,219.1 302.9,219.6 305.3,206.1 307.8,213.6 310.2,205.1 312.7,201.2 315.1,205.4 317.6,205.0 320.0,202.7 322.4,200.6 324.9,203.8 327.3,216.2 329.8,221.4 332.2,220.3 334.7,227.4 337.1,222.9 339.5,225.4 342.0,226.6 344.4,218.4 346.9,216.4 349.3,219.3 351.8,214.6 354.2,209.5 356.6,214.8 359.1,213.4 361.5,222.2 364.0,222.6 366.4,226.2 368.9,233.4 371.3,237.5 373.7,240.1 376.2,245.7 378.6,253.4 381.1,256.2 383.5,261.2 386.0,253.2 388.4,262.2 390.8,267.3 393.3,273.5 395.7,276.4 398.2,281.5 400.6,290.9 403.1,295.0 405.5,298.2 407.9,310.4 410.4,316.4 412.8,321.0 415.3,330.5 417.7,336.3 420.2,345.3 422.6,351.2 425.0,357.8 427.5,366.1 429.9,374.7 432.4,385.3 434.8,395.9 437.3,407.0 439.7,417.9 442.1,427.5 444.6,443.4 447.0,454.1 449.5,468.6 451.9,482.6 454.4,494.6 456.8,507.9 459.2,522.2 461.7,534.1 464.1,541.3 466.6,545.8 469.0,549.0 471.5,554.0 473.9,557.3 476.3,564.8 478.8,574.4 481.2,586.9 483.7,598.3 486.1,608.8 488.6,618.9 491.0,627.7 493.4,635.5 495.9,643.6 498.3,653.2 500.8,658.5 503.2,665.5 505.6,674.9 508.1,683.3 510.5,692.2 513.0,701.0 515.4,711.8 517.9,716.7 520.3,722.6 522.7,727.5 525.2,731.2 527.6,735.7 530.1,741.6 532.5,746.0 535.0,749.9 537.4,754.0 539.8,758.8 542.3,764.7 544.7,768.3 547.2,774.6 549.6,779.2 552.1,784.6 554.5,786.5 556.9,788.7 559.4,791.8 561.8,792.6 564.3,797.6 566.7,800.1 569.2,802.4 571.6,802.8 574.0,802.8 576.5,802.4 578.9,803.0 581.4,803.8 583.8,802.2 586.3,804.4 588.7,806.3 591.1,811.9 593.6,815.0 596.0,817.5 598.5,820.2 600.9,825.9 603.4,828.6 605.8,828.5 608.2,825.8 610.7,825.4 613.1,826.0 615.6,829.7 618.0,832.5 620.5,835.3 622.9,839.7 625.3,844.4 627.8,850.1 630.2,852.7 632.7,856.0 635.1,857.8 637.6,859.0 640.0,863.2 642.4,863.3 644.9,866.7 647.3,868.4 649.8,868.2 652.2,870.6 654.7,872.7 657.1,873.7 659.5,874.7 662.0,877.8 664.4,878.3 666.9,880.1 669.3,880.8 671.8,882.6 674.2,882.6 676.6,883.8 679.1,885.0 681.5,885.1 684.0,885.1 686.4,885.0 688.9,886.5 691.3,886.9 693.7,886.4 696.2,885.7 698.6,886.9 701.1,888.5 703.5,886.0 706.0,886.9 708.4,887.1 710.8,884.6 713.3,886.9 715.7,886.1 718.2,887.5 720.6,885.6 723.1,884.4 725.5,884.3 727.9,883.9 730.4,882.5 732.8,882.1 735.3,880.1 737.7,879.9 740.1,879.8 742.6,879.6 745.0,877.3 747.5,875.8 749.9,875.6 752.4,874.3 754.8,873.8 757.2,872.2 759.7,870.0 762.1,869.3 764.6,868.3 767.0,867.4 769.5,866.7 771.9,865.1 774.3,863.3 776.8,863.5 779.2,861.0 781.7,861.2 784.1,859.0 786.6,855.0 789.0,854.7 791.4,852.1 793.9,848.4 796.3,847.4 798.8,844.9 801.2,839.6 803.7,838.9 806.1,835.7 808.5,832.7 811.0,830.3 813.4,825.9 815.9,822.9 818.3,819.3 820.8,815.7 823.2,812.5 825.6,807.1 828.1,803.2 830.5,800.5 833.0,796.0 835.4,792.5 837.9,786.9 840.3,784.2 842.7,780.9 845.2,777.5 847.6,773.2 850.1,770.7 852.5,765.8 855.0,761.7 857.4,757.7 859.8,754.0 862.3,748.6 864.7,745.7 867.2,740.7 869.6,735.9 872.1,731.2 874.5,726.9 876.9,722.5 879.4,717.5 881.8,712.0 884.3,707.3 886.7,701.4 889.2,697.3 891.6,690.5 894.0,682.8 896.5,679.8 898.9,672.4 901.4,665.0 903.8,660.0 906.3,653.8 908.7,651.1 911.1,644.4 913.6,637.7 916.0,635.3 918.5,630.7 920.9,629.1 923.4,622.4 925.8,616.5 928.2,613.0 930.7,606.1 933.1,598.8 935.6,590.0 938.0,585.7 940.5,580.5 942.9,571.2 945.3,567.9 947.8,561.0 950.2,558.3 952.7,552.3 955.1,547.8 957.5,545.6 960.0,541.8 962.4,537.7 964.9,536.3 967.3,532.3 969.8,528.7 972.2,529.8 974.6,525.4 977.1,523.1 979.5,522.3 982.0,518.8 984.4,517.1 986.9,516.1 989.3,514.0 991.7,512.6 994.2,511.6 996.6,508.1 999.1,507.1 1001.5,505.2 1004.0,501.8 1006.4,500.9 1008.8,497.8 1011.3,497.5 1013.7,495.2 1016.2,492.8 1018.6,490.0 1021.1,489.5 1023.5,486.8 1025.9,486.0 1028.4,483.2 1030.8,480.4 1033.3,480.2 1035.7,478.1 1038.2,475.4 1040.6,475.9 1043.0,473.9 1045.5,473.5 1047.9,473.8 1050.4,472.8 1052.8,472.7 1055.3,472.7 1057.7,474.0 1060.1,473.6 1062.6,471.9 1065.0,473.6 1067.5,472.2 1069.9,472.5 1072.4,472.9 1074.8,472.5 1077.2,474.8 1079.7,473.2 1082.1,472.4 1084.6,475.4 1087.0,474.7 1089.5,475.1 1091.9,473.3 1094.3,477.1 1096.8,477.3 1099.2,477.3 1101.7,478.1 1104.1,479.2 1106.6,478.5 1109.0,480.1 1111.4,479.3 1113.9,480.3 1116.3,482.4 1118.8,482.5 1121.2,481.7 1123.7,484.2 1126.1,484.5 1128.5,484.8 1131.0,487.0 1133.4,487.3 1135.9,487.1 1138.3,488.7 1140.8,492.3 1143.2,490.3 1145.6,492.8 1148.1,494.8 1150.5,496.1 1153.0,496.0 1155.4,498.4 1157.9,500.5 1160.3,502.7 1162.7,502.9 1165.2,503.8 1167.6,507.1 1170.1,508.4 1172.5,508.9 1174.9,509.4 1177.4,511.5 1179.8,512.3 1182.3,513.2 1184.7,511.4 1187.2,512.5 1189.6,511.9 1192.0,510.4 1194.5,511.1 1196.9,510.3 1199.4,509.2 1201.8,509.3 1204.3,507.1 1206.7,507.7 1209.1,507.5 1211.6,506.9 1214.0,507.4 1216.5,504.9 1218.9,504.0 1221.4,504.8 1223.8,503.9 1226.2,504.3 1228.7,501.7 1231.1,499.4 1233.6,500.0 1236.0,497.1 1238.5,495.2 1240.9,497.8 1243.3,494.6 1245.8,493.7 1248.2,492.9 1250.7,493.0 1253.1,490.9 1255.6,491.0 1258.0,488.0 1260.4,486.4 1262.9,487.7 1265.3,486.2 1267.8,483.7 1270.2,482.2 1272.7,480.6 1275.1,478.2 1277.5,478.6 1280.0,476.3 1282.4,474.3 1284.9,472.4 1287.3,471.3 1289.8,470.3 1292.2,471.4 1294.6,471.9 1297.1,476.2 1299.5,479.6 1302.0,477.7 1304.4,478.4 1306.9,479.8 1309.3,480.6 1311.7,481.4 1314.2,481.9 1316.6,486.8 1319.1,488.2 1321.5,490.9 1324.0,494.2 1326.4,495.3 1328.8,498.7 1331.3,504.3 1333.7,507.0 1336.2,512.6 1338.6,516.6 1341.1,521.2 1343.5,524.4 1345.9,528.2 1348.4,530.6 1350.8,534.9 1353.3,539.8 1355.7,542.7 1358.2,546.2 1360.6,551.4 1363.0,560.6 1365.5,566.4 1367.9,578.4 1370.4,589.7 1372.8,596.9 1375.3,607.1 1377.7,608.7 1380.1,625.5 1382.6,630.4 1385.0,633.0 1387.5,638.9 1389.9,651.8 1392.4,652.3 1394.8,663.7 1397.2,678.1 1399.7,683.9 1402.1,691.2 1404.6,705.9 1407.0,708.2 1409.4,722.7 1411.9,729.5 1414.3,737.1 1416.8,749.7 1419.2,751.2 1421.7,768.9 1424.1,766.3 1426.5,783.5 1429.0,779.3 1431.4,794.0 1433.9,794.4 1436.3,800.1 1438.8,815.1 1441.2,823.4 1443.6,820.9 1446.1,834.9 1448.5,829.3 1451.0,834.4 1453.4,838.9 1455.9,841.0 1458.3,834.0 1460.7,852.7 1463.2,853.4 1465.6,853.4 1468.1,855.9 1470.5,856.3 1473.0,860.5 1475.4,871.5 1477.8,870.2 1480.3,868.8 1482.7,876.2 1485.2,890.9 1487.6,887.0 1490.1,888.5 1492.5,896.2 1494.9,887.6 1497.4,881.5 1499.8,879.3 1502.3,880.4 1504.7,889.1 1507.2,897.9 1509.6,901.2 1512.0,904.3" stroke="#B070DD"/>
<polyline points="170.6,500.6 173.0,497.2 175.5,495.6 177.9,489.2 180.4,483.2 182.8,488.0 185.3,484.4 187.7,483.6 190.1,483.8 192.6,478.1 195.0,476.4 197.5,478.5 199.9,476.9 202.4,472.4 204.8,476.5 207.2,473.2 209.7,468.5 212.1,472.5 214.6,478.0 217.0,466.0 219.5,471.0 221.9,471.7 224.3,469.9 226.8,461.0 229.2,472.5 231.7,466.2 234.1,464.3 236.6,465.5 239.0,469.0 241.4,466.4 243.9,465.9 246.3,472.1 248.8,464.1 251.2,462.3 253.7,469.0 256.1,468.5 258.5,467.7 261.0,457.3 263.4,463.0 265.9,460.8 268.3,464.2 270.8,452.7 273.2,458.6 275.6,457.2 278.1,450.5 280.5,453.5 283.0,460.1 285.4,452.4 287.8,450.0 290.3,455.2 292.7,454.7 295.2,452.0 297.6,441.7 300.1,441.4 302.5,443.0 304.9,433.3 307.4,430.1 309.8,435.5 312.3,437.9 314.7,426.8 317.2,421.2 319.6,425.6 322.0,426.1 324.5,428.1 326.9,430.4 329.4,426.8 331.8,424.9 334.3,428.4 336.7,424.5 339.1,427.5 341.6,426.4 344.0,440.0 346.5,433.4 348.9,425.1 351.4,423.2 353.8,422.8 356.2,416.1 358.7,418.2 361.1,417.8 363.6,423.3 366.0,418.4 368.5,417.1 370.9,415.4 373.3,416.0 375.8,419.6 378.2,419.3 380.7,424.0 383.1,418.3 385.6,424.9 388.0,424.3 390.4,424.5 392.9,419.5 395.3,422.1 397.8,428.2 400.2,429.7 402.7,427.5 405.1,429.5 407.5,428.1 410.0,428.1 412.4,427.8 414.9,430.1 417.3,429.2 419.8,428.4 422.2,428.4 424.6,429.4 427.1,429.0 429.5,427.8 432.0,430.5 434.4,429.2 436.9,429.0 439.3,431.1 441.7,431.0 444.2,430.9 446.6,432.7 449.1,432.4 451.5,433.5 454.0,432.7 456.4,436.3 458.8,433.6 461.3,436.4 463.7,435.5 466.2,435.9 468.6,438.3 471.1,440.7 473.5,443.3 475.9,446.5 478.4,446.8 480.8,448.6 483.3,448.5 485.7,451.0 488.2,451.7 490.6,452.3 493.0,454.1 495.5,455.5 497.9,457.2 500.4,459.1 502.8,459.7 505.2,461.5 507.7,465.0 510.1,464.4 512.6,467.7 515.0,472.1 517.5,469.5 519.9,473.6 522.3,476.8 524.8,476.4 527.2,482.3 529.7,479.0 532.1,484.6 534.6,487.0 537.0,488.0 539.4,489.1 541.9,491.9 544.3,493.1 546.8,497.0 549.2,497.2 551.7,500.1 554.1,503.6 556.5,503.6 559.0,506.8 561.4,509.1 563.9,508.5 566.3,511.2 568.8,509.8 571.2,506.8 573.6,507.2 576.1,505.3 578.5,504.2 581.0,504.1 583.4,503.3 585.9,506.0 588.3,506.4 590.7,510.3 593.2,511.4 595.6,513.5 598.1,513.0 600.5,513.4 603.0,513.2 605.4,514.9 607.8,515.5 610.3,517.1 612.7,517.2 615.2,517.7 617.6,519.8 620.1,523.2 622.5,525.8 624.9,530.6 627.4,533.2 629.8,534.2 632.3,537.5 634.7,542.8 637.2,544.5 639.6,546.6 642.0,550.7 644.5,551.8 646.9,554.6 649.4,556.7 651.8,557.4 654.3,562.1 656.7,561.4 659.1,562.7 661.6,563.5 664.0,565.6 666.5,565.7 668.9,566.2 671.4,565.0 673.8,566.5 676.2,564.8 678.7,566.0 681.1,565.2 683.6,563.9 686.0,565.2 688.5,563.0 690.9,562.5 693.3,561.6 695.8,560.5 698.2,561.3 700.7,560.6 703.1,557.5 705.6,559.1 708.0,557.8 710.4,557.5 712.9,556.3 715.3,553.5 717.8,552.6 720.2,554.6 722.7,551.6 725.1,548.4 727.5,549.1 730.0,547.1 732.4,544.0 734.9,541.9 737.3,540.9 739.7,540.9 742.2,538.6 744.6,536.3 747.1,535.3 749.5,533.7 752.0,529.1 754.4,529.1 756.8,526.7 759.3,524.0 761.7,522.6 764.2,521.0 766.6,518.7 769.1,515.2 771.5,514.2 773.9,514.8 776.4,509.4 778.8,506.5 781.3,506.4 783.7,504.5 786.2,501.7 788.6,497.8 791.0,497.6 793.5,493.0 795.9,489.5 798.4,487.0 800.8,484.4 803.3,482.3 805.7,479.3 808.1,475.9 810.6,474.3 813.0,471.5 815.5,470.7 817.9,467.3 820.4,466.0 822.8,466.9 825.2,462.6 827.7,461.5 830.1,459.5 832.6,456.4 835.0,454.3 837.5,453.6 839.9,446.9 842.3,448.0 844.8,447.4 847.2,442.7 849.7,440.5 852.1,439.7 854.6,438.8 857.0,433.9 859.4,433.3 861.9,431.3 864.3,429.9 866.8,427.6 869.2,426.2 871.7,423.3 874.1,421.8 876.5,419.2 879.0,417.2 881.4,415.8 883.9,413.5 886.3,410.5 888.8,411.4 891.2,407.7 893.6,404.6 896.1,405.4 898.5,401.7 901.0,401.0 903.4,398.7 905.9,397.2 908.3,395.4 910.7,392.8 913.2,392.2 915.6,392.9 918.1,387.3 920.5,388.8 923.0,388.7 925.4,385.8 927.8,384.7 930.3,387.3 932.7,383.9 935.2,385.5 937.6,383.6 940.1,382.6 942.5,382.8 944.9,382.8 947.4,383.2 949.8,382.4 952.3,381.9 954.7,381.9 957.1,383.2 959.6,382.8 962.0,380.9 964.5,381.6 966.9,383.2 969.4,382.9 971.8,384.0 974.2,384.3 976.7,385.7 979.1,387.1 981.6,387.9 984.0,387.3 986.5,389.3 988.9,387.4 991.3,390.8 993.8,389.1 996.2,389.1 998.7,388.7 1001.1,386.7 1003.6,389.5 1006.0,390.2 1008.4,391.8 1010.9,389.1 1013.3,393.2 1015.8,392.6 1018.2,394.5 1020.7,392.7 1023.1,396.5 1025.5,397.3 1028.0,399.2 1030.4,399.4 1032.9,398.8 1035.3,401.5 1037.8,401.7 1040.2,401.8 1042.6,402.8 1045.1,403.5 1047.5,403.1 1050.0,402.1 1052.4,402.6 1054.9,405.8 1057.3,405.6 1059.7,405.5 1062.2,405.9 1064.6,407.3 1067.1,408.3 1069.5,408.6 1072.0,409.1 1074.4,412.8 1076.8,411.7 1079.3,411.5 1081.7,411.3 1084.2,412.1 1086.6,413.7 1089.1,413.7 1091.5,412.9 1093.9,413.5 1096.4,413.2 1098.8,412.5 1101.3,414.7 1103.7,413.9 1106.2,415.9 1108.6,412.7 1111.0,413.3 1113.5,414.7 1115.9,413.4 1118.4,412.1 1120.8,412.4 1123.3,413.2 1125.7,413.0 1128.1,412.2 1130.6,413.2 1133.0,413.2 1135.5,412.8 1137.9,412.9 1140.4,413.2 1142.8,414.7 1145.2,415.8 1147.7,415.7 1150.1,416.9 1152.6,416.9 1155.0,416.1 1157.5,416.7 1159.9,418.2 1162.3,417.5 1164.8,418.1 1167.2,416.2 1169.7,416.6 1172.1,416.9 1174.5,416.3 1177.0,414.5 1179.4,415.0 1181.9,415.3 1184.3,414.0 1186.8,415.5 1189.2,415.8 1191.6,414.2 1194.1,416.7 1196.5,414.6 1199.0,414.7 1201.4,414.9 1203.9,414.4 1206.3,415.3 1208.7,414.8 1211.2,416.1 1213.6,414.8 1216.1,414.6 1218.5,413.9 1221.0,412.8 1223.4,414.3 1225.8,413.9 1228.3,415.9 1230.7,415.3 1233.2,417.4 1235.6,417.0 1238.1,417.3 1240.5,416.9 1242.9,416.4 1245.4,416.0 1247.8,414.9 1250.3,411.6 1252.7,411.6 1255.2,412.8 1257.6,409.7 1260.0,409.9 1262.5,410.2 1264.9,410.3 1267.4,414.0 1269.8,413.7 1272.3,415.5 1274.7,420.6 1277.1,425.1 1279.6,425.2 1282.0,429.9 1284.5,430.4 1286.9,429.9 1289.4,429.6 1291.8,428.6 1294.2,429.8 1296.7,428.4 1299.1,427.8 1301.6,428.9 1304.0,428.8 1306.5,428.7 1308.9,429.2 1311.3,431.4 1313.8,431.0 1316.2,431.1 1318.7,431.2 1321.1,432.1 1323.6,431.6 1326.0,433.1 1328.4,433.4 1330.9,431.0 1333.3,433.3 1335.8,434.6 1338.2,433.8 1340.7,432.5 1343.1,437.5 1345.5,435.5 1348.0,435.4 1350.4,436.9 1352.9,439.7 1355.3,442.3 1357.8,443.2 1360.2,441.2 1362.6,438.1 1365.1,440.3 1367.5,440.5 1370.0,442.7 1372.4,437.5 1374.9,444.7 1377.3,447.8 1379.7,446.0 1382.2,450.8 1384.6,447.6 1387.1,446.4 1389.5,451.3 1392.0,460.9 1394.4,461.0 1396.8,456.0 1399.3,466.2 1401.7,461.1 1404.2,472.6 1406.6,469.4 1409.0,466.0 1411.5,475.7 1413.9,468.9 1416.4,468.0 1418.8,466.0 1421.3,476.4 1423.7,474.7 1426.1,473.2 1428.6,472.5 1431.0,485.6 1433.5,475.2 1435.9,474.3 1438.4,490.5 1440.8,494.6 1443.2,488.5 1445.7,475.6 1448.1,485.8 1450.6,495.0 1453.0,492.5 1455.5,505.4 1457.9,487.1 1460.3,504.2 1462.8,498.0 1465.2,514.0 1467.7,506.5 1470.1,518.8 1472.6,509.2 1475.0,504.9 1477.4,511.1 1479.9,514.7 1482.3,508.9 1484.8,527.9 1487.2,530.2 1489.7,520.5 1492.1,512.1 1494.5,521.6 1497.0,518.1 1499.4,537.0 1501.9,528.6 1504.3,532.8 1506.8,528.6 1509.2,516.0 1511.6,528.9" stroke="#CC9900"/>
</g>
<g stroke-width="8" stroke-linecap="butt">
<line x1="386" y1="73.3" x2="541" y2="73.3" stroke="#CC9900"/>
<line x1="386" y1="167.5" x2="541" y2="167.5" stroke="#2EAC69"/>
<line x1="386" y1="263" x2="541" y2="263" stroke="#F43539"/>
<line x1="969" y1="73.3" x2="1123" y2="73.3" stroke="#B070DD"/>
<line x1="969" y1="167.5" x2="1123" y2="167.5" stroke="#1A6AE0"/>
<line x1="969" y1="263" x2="1123" y2="263" stroke="#484848"/>
</g>
<g font-size="65.0" stroke="#000" stroke-width="1.5">
<text transform="translate(554,94.0) scale(1,1.012)">CuPc</text>
<text transform="translate(554,189.4) scale(1,1.012)">TiO<tspan dx="0.3" baseline-shift="-17.5" font-size="41.5">2</tspan><tspan dx="2.5">/1CuPc</tspan></text>
<text transform="translate(554,283.6) scale(1,1.012)">TiO<tspan dx="0.3" baseline-shift="-17.5" font-size="41.5">2</tspan><tspan dx="2.5">/0.1CuPc</tspan></text>
<text transform="translate(1137.5,94.0) scale(1,1.012)">TiO<tspan dx="0.3" baseline-shift="-17.5" font-size="41.5">2</tspan><tspan dx="1.5">/2CuPc</tspan></text>
<text transform="translate(1137.5,189.4) scale(1,1.012)">TiO<tspan dx="0.3" baseline-shift="-17.5" font-size="41.5">2</tspan><tspan dx="2.5">/0.5CuPc</tspan></text>
<text transform="translate(1137.5,283.6) scale(1,1.012)">TiO<tspan dx="0.3" baseline-shift="-17.5" font-size="41.5">2</tspan></text>
</g>
<g stroke="#000" stroke-width="5.5" fill="none">
<rect x="170.8" y="41.0" width="1343.5" height="1075.0"/>
<line x1="170.8" y1="1116.0" x2="170.8" y2="1124.0"/>
<line x1="292.9" y1="1116.0" x2="292.9" y2="1134.5"/>
<line x1="415.1" y1="1116.0" x2="415.1" y2="1124.0"/>
<line x1="537.2" y1="1116.0" x2="537.2" y2="1134.5"/>
<line x1="659.3" y1="1116.0" x2="659.3" y2="1124.0"/>
<line x1="781.5" y1="1116.0" x2="781.5" y2="1134.5"/>
<line x1="903.6" y1="1116.0" x2="903.6" y2="1124.0"/>
<line x1="1025.8" y1="1116.0" x2="1025.8" y2="1134.5"/>
<line x1="1147.9" y1="1116.0" x2="1147.9" y2="1124.0"/>
<line x1="1270.0" y1="1116.0" x2="1270.0" y2="1134.5"/>
<line x1="1392.2" y1="1116.0" x2="1392.2" y2="1124.0"/>
<line x1="1514.3" y1="1116.0" x2="1514.3" y2="1134.5"/>
</g>
<g font-size="74.5" text-anchor="middle">
<text transform="translate(292.9,1205.2) scale(1,1.035)">300</text>
<text transform="translate(537.2,1205.2) scale(1,1.035)">400</text>
<text transform="translate(781.5,1205.2) scale(1,1.035)">500</text>
<text transform="translate(1025.8,1205.2) scale(1,1.035)">600</text>
<text transform="translate(1270.0,1205.2) scale(1,1.035)">700</text>
<text transform="translate(1514.3,1205.2) scale(1,1.035)">800</text>
</g>
<text transform="translate(904,1293) scale(1,1.0)" font-size="84.2" text-anchor="middle" stroke="#000" stroke-width="1.3">Wavelength (nm)</text>
<text transform="translate(90.3,585) rotate(-90) scale(1,1.0)" font-size="84.6" text-anchor="middle" stroke="#000" stroke-width="1.6">Absorbance (a.u.)</text>
</svg>
</body></html>
